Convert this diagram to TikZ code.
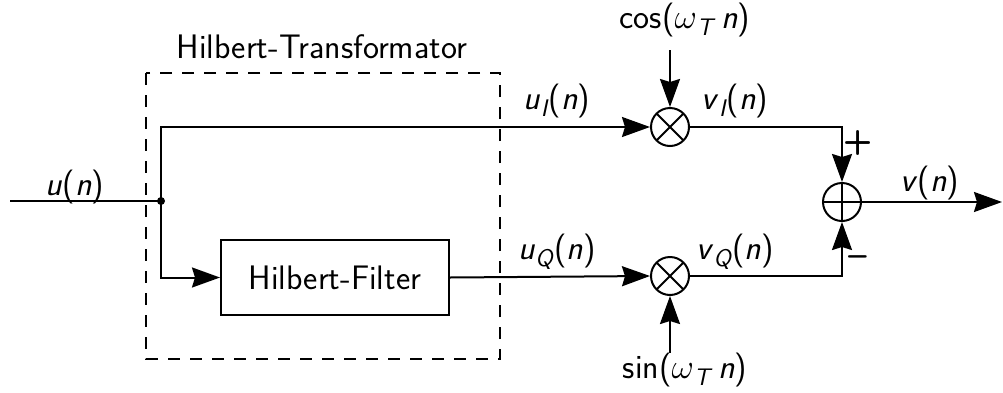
\documentclass[tikz,border=0pt]{standalone}
\usetikzlibrary{arrows.meta}
\renewcommand{\familydefault}{\sfdefault}
\newcommand{\sig}[1]{\textsl{#1}}
\newcommand{\sub}[1]{\raisebox{-0.45ex}{\fontsize{12}{13}\selectfont\textsl{#1}}}
\begin{document}
\begin{tikzpicture}[x=0.5pt,y=-0.5pt,
  line width=1pt,
  every node/.style={font=\fontsize{17}{20}\selectfont},
  sigarrow/.style={-{Stealth[length=14pt,width=10pt,inset=1.5pt]}},
  blockbox/.style={draw,minimum width=114pt,minimum height=37.5pt,inner sep=0pt},
  mult/.style={circle,draw,minimum size=19pt,inner sep=0pt,
    path picture={\draw (path picture bounding box.north west)--(path picture bounding box.south east)
                        (path picture bounding box.north east)--(path picture bounding box.south west);}},
  adder/.style={circle,draw,minimum size=19pt,inner sep=0pt,
    path picture={\draw (path picture bounding box.north)--(path picture bounding box.south)
                        (path picture bounding box.west)--(path picture bounding box.east);}},
  lbl/.style={inner sep=0pt,anchor=center}]
\useasboundingbox (0,0) rectangle (1003,392);

% Hilbert transformer frame
\draw[dashed,dash pattern=on 6pt off 5pt] (146,73) rectangle (500,359);
\node[lbl] (httitle) at (322,47) {Hilbert-Transformator};

% blocks
\node[blockbox] (hf) at (335,277.5) {Hilbert-Filter};
\node[mult] (mI) at (670,127) {};
\node[mult] (mQ) at (670,276) {};
\node[adder] (sum) at (842,202) {};

% input and branch point
\coordinate (in) at (10,201);
\coordinate (br) at (161,201);
\coordinate (out) at (1002,202);
\coordinate (cosin) at (670,50);
\coordinate (sinin) at (670,353);
\fill (br) circle (2pt);
\draw (in) -- (br);
\draw[sigarrow] (br) |- (mI.west);
\draw[sigarrow] (br) |- (hf.west);
\draw[sigarrow] (hf.east) -- (mQ.west);
\draw[sigarrow] (cosin) -- (mI.north);
\draw[sigarrow] (sinin) -- (mQ.south);
\draw[sigarrow] (mI.east) -| (sum.north);
\draw[sigarrow] (mQ.east) -| (sum.south);
\draw[sigarrow] (sum.east) -- (out);

% signal labels
\node[lbl] (lu) at (75,187) {\sig{u}(\sig{n})};
\node[lbl] (luI) at (557,101) {\sig{u}\sub{I}(\sig{n})};
\node[lbl] (luQ) at (557,252) {\sig{u}\sub{Q}(\sig{n})};
\node[lbl] (lvI) at (735,101) {\sig{v}\sub{I}(\sig{n})};
\node[lbl] (lvQ) at (735,252) {\sig{v}\sub{Q}(\sig{n})};
\node[lbl] (lv) at (930,183) {\sig{v}(\sig{n})};
\node[lbl] (lcos) at (685,20) {cos($\omega$\sub{T}\,\sig{n})};
\node[lbl] (lsin) at (685,370) {sin($\omega$\sub{T}\,\sig{n})};
\node[lbl] (lplus) at (858,143) {\textbf{+}};
\node[lbl] (lminus) at (858,261) {\textbf{--}};
\end{tikzpicture}
\end{document}
